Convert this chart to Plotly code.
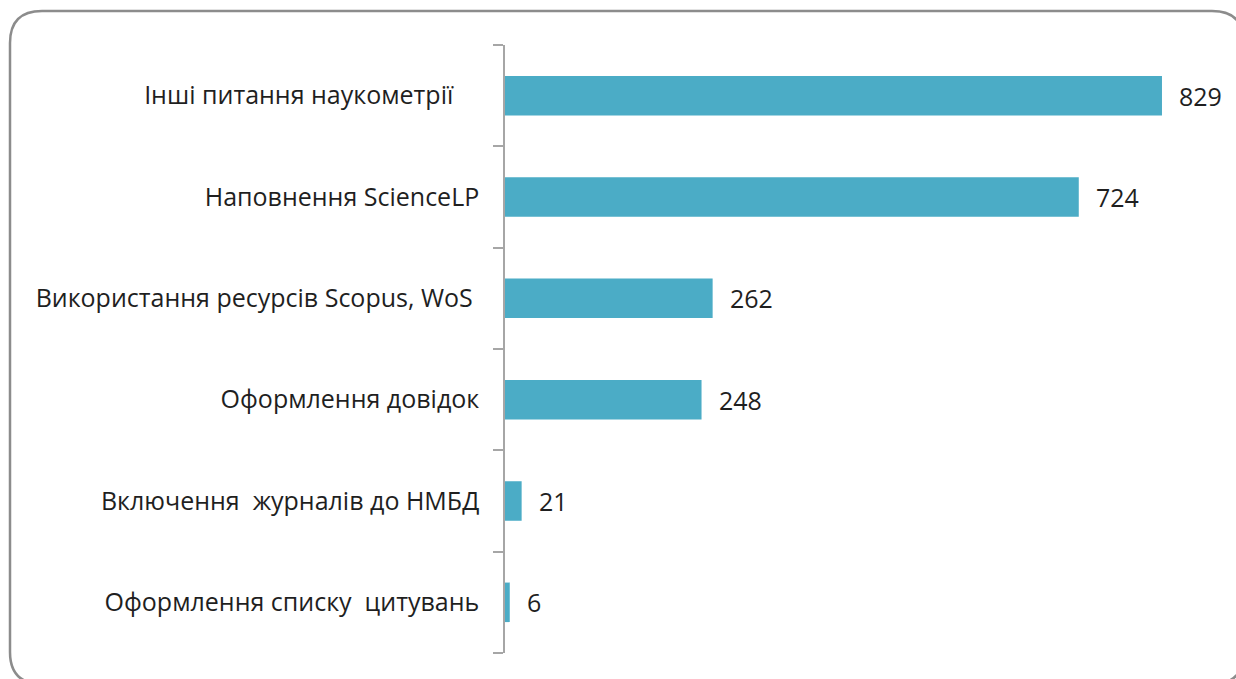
import plotly.graph_objects as go

categories = [
    "Інші питання наукометрії",
    "Наповнення ScienceLP",
    "Використання ресурсів Scopus, WoS",
    "Оформлення довідок",
    "Включення  журналів до НМБД",
    "Оформлення списку  цитувань",
]
values = [829, 724, 262, 248, 21, 6]
tick_labels = [
    "Інші питання наукометрії\u00a0\u00a0\u00a0\u00a0",
    "Наповнення ScienceLP",
    "Використання ресурсів Scopus,\u00a0WoS\u00a0",
    "Оформлення довідок",
    "Включення\u00a0\u00a0журналів до НМБД",
    "Оформлення списку\u00a0\u00a0цитувань",
]

W, H = 1236, 679
ML, MR, MT, MB = 505, 18, 45, 26
PW, PH = W - ML - MR, H - MT - MB
SCALE = 0.7925  # px per unit


def px(x):
    return (x - ML) / PW


def py(y):
    return (H - MB - y) / PH


fig = go.Figure()
fig.add_trace(go.Bar(
    y=categories,
    x=values,
    orientation="h",
    marker=dict(color="#4BACC6", line=dict(width=0)),
    width=0.39,
    hoverinfo="skip",
))

for c, v in zip(categories, values):
    fig.add_annotation(
        x=v, y=c, xref="x", yref="y", text=str(v), showarrow=False,
        xanchor="left", xshift=15,
        font=dict(family="Open Sans", size=25, color="#1f1f1f"),
    )

# rounded border
x0, y0, x1, y1, r = 10, 11, 1244, 684, 32
path = (
    f"M {px(x0 + r)},{py(y0)} L {px(x1 - r)},{py(y0)} "
    f"Q {px(x1)},{py(y0)} {px(x1)},{py(y0 + r)} "
    f"L {px(x1)},{py(y1 - r)} Q {px(x1)},{py(y1)} {px(x1 - r)},{py(y1)} "
    f"L {px(x0 + r)},{py(y1)} Q {px(x0)},{py(y1)} {px(x0)},{py(y1 - r)} "
    f"L {px(x0)},{py(y0 + r)} Q {px(x0)},{py(y0)} {px(x0 + r)},{py(y0)} Z"
)
fig.add_shape(type="path", path=path, xref="paper", yref="paper",
              line=dict(color="#8c8c8c", width=2.5), layer="below")

fig.update_layout(
    width=W, height=H,
    margin=dict(l=ML, r=MR, t=MT, b=MB),
    paper_bgcolor="white", plot_bgcolor="white",
    showlegend=False,
    xaxis=dict(visible=False, range=[0, PW / SCALE], fixedrange=True),
    yaxis=dict(
        type="category",
        categoryorder="array", categoryarray=categories,
        tickvals=categories, ticktext=tick_labels,
        autorange="reversed",
        showline=True, linecolor="#a6a6a6", linewidth=1.5,
        ticks="outside", tickson="boundaries", ticklen=10,
        tickcolor="#a6a6a6", tickwidth=1.5,
        showgrid=False, zeroline=False, fixedrange=True,
        ticklabelstandoff=19,
        tickfont=dict(family="Open Sans", size=25, color="#1f1f1f"),
    ),
)

fig.write_html(
    "out.html",
    config={"displayModeBar": False},
    post_script="document.body.style.margin='0';document.body.style.overflow='hidden';",
)
